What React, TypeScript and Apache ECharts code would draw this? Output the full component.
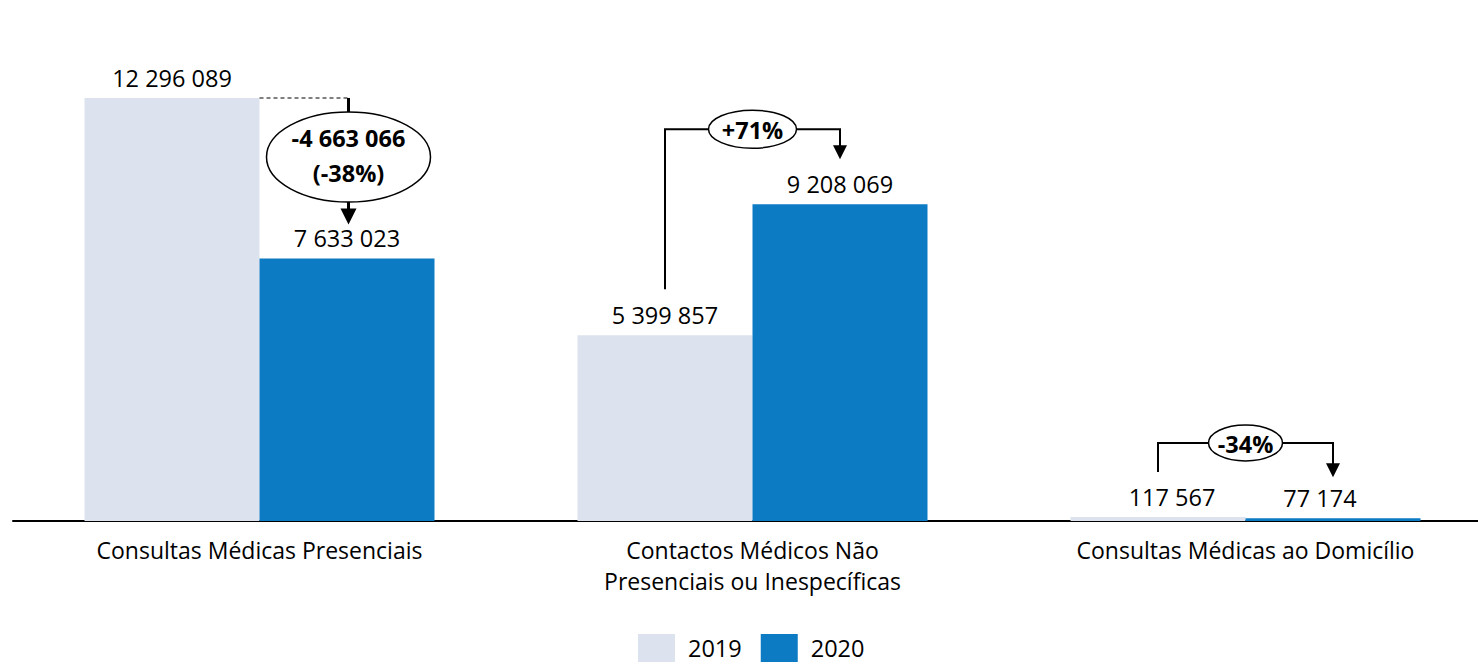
import React, { useEffect, useRef } from "react";
import * as echarts from "echarts";

const categories = [
  "Consultas Médicas Presenciais",
  "Contactos Médicos Não\nPresenciais ou Inespecíficas",
  "Consultas Médicas ao Domicílio",
];
const seriesNames = ["2019", "2020"];
const values2019 = [12296089, 5399857, 117567];
const values2020 = [7633023, 9208069, 77174];
const changeLabels = [["-4 663 066", "(-38%)"], ["+71%"], ["-34%"]];

const COLOR_2019 = "#dde3ee";
const COLOR_2020 = "#0c7bc4";
const FONT = "'Open Sans', 'Liberation Sans', sans-serif";
const BAR_W = 175;

const fmt = (v: number) => String(v).replace(/\B(?=(\d{3})+(?!\d))/g, " ");

export default function App() {
  const ref = useRef<HTMLDivElement>(null);
  useEffect(() => {
    if (!ref.current) return;
    const chart = echarts.init(ref.current, undefined, { renderer: "svg" });
    const labelOffsets2019 = [[0, 0], [0, 0], [14, 0]];
    const labelOffsets2020 = [[0, 0], [0, 0], [-13, 0]];
    const valueLabel = {
      show: true,
      position: "top",
      distance: 8,
      fontSize: 23.5,
      color: "#000",
      fontFamily: FONT,
      formatter: (p: any) => fmt(p.value),
    };
    const option: any = {
      animation: false,
      textStyle: { fontFamily: FONT },
      grid: { left: 13, width: 1479, top: 39.4, bottom: 145 },
      legend: {
        data: seriesNames,
        left: 638,
        top: 634,
        padding: 0,
        itemWidth: 37,
        itemHeight: 28,
        itemGap: 19,
        icon: "rect",
        textStyle: { fontSize: 23.5, color: "#000", fontFamily: FONT, padding: [0, 0, 0, 8] },
      },
      xAxis: {
        type: "category",
        data: categories,
        axisLine: { lineStyle: { color: "#000", width: 2 } },
        axisTick: { show: false },
        axisLabel: { fontSize: 23, color: "#000", lineHeight: 31, margin: 13, fontFamily: FONT },
      },
      yAxis: { type: "value", min: 0, max: 14000000, show: false, splitLine: { show: false } },
      series: [
        {
          name: seriesNames[0],
          type: "bar",
          barWidth: BAR_W,
          barGap: "0%",
          itemStyle: { color: COLOR_2019 },
          data: values2019.map((v, i) => ({ value: v, label: { offset: labelOffsets2019[i] } })),
          label: valueLabel,
        },
        {
          name: seriesNames[1],
          type: "bar",
          barWidth: BAR_W,
          barGap: "0%",
          itemStyle: { color: COLOR_2020 },
          data: values2020.map((v, i) => ({ value: v, label: { offset: labelOffsets2020[i] } })),
          label: valueLabel,
        },
      ],
    };
    chart.setOption(option);

    const px = (i: number, v: number) => chart.convertToPixel({ gridIndex: 0 }, [i, v]) as number[];
    const graphics: any[] = [];
    const arrowHead = (x: number, tipY: number, w: number, h: number) => ({
      type: "polygon",
      shape: { points: [[x - w / 2, tipY - h], [x + w / 2, tipY - h], [x, tipY]] },
      style: { fill: "#000" },
      z: 100,
    });
    const line = (pts: number[][], width: number, dash?: number[]) => ({
      type: "polyline",
      shape: { points: pts },
      style: { stroke: "#000", lineWidth: width, fill: null, lineDash: dash },
      z: 99,
    });
    const ellipse = (cx: number, cy: number, rx: number, ry: number) => ({
      type: "ellipse",
      shape: { cx, cy, rx, ry },
      style: { fill: "#fff", stroke: "#000", lineWidth: 1.5 },
      z: 101,
    });
    const txt = (x: number, y: number, t: string, lh: number) => ({
      type: "text",
      x,
      y,
      style: { text: t, fill: "#000", font: `bold 23.5px ${FONT}`, align: "center", verticalAlign: "middle", lineHeight: lh },
      z: 102,
    });

    // Category 1: difference arrow with ellipse
    {
      const c = px(0, values2019[0]);
      const y1 = c[1];
      const y2 = px(0, values2020[0])[1];
      const ax = c[0] + 89;
      graphics.push(line([[c[0], y1], [ax, y1]], 1, [4, 3]));
      const tip = y2 - 34;
      graphics.push(line([[ax, y1], [ax, tip - 12]], 3));
      graphics.push(arrowHead(ax, tip, 16, 16));
      const ecy = y1 + 59;
      graphics.push(ellipse(ax, ecy, 82, 45));
      graphics.push(txt(ax, ecy - 2, changeLabels[0].join("\n"), 35));
    }
    // Category 2 and 3: brackets
    const brackets = [
      { i: 1, topOff: 75, startOff: 46, tipOff: 45, rx: 44, ry: 19 },
      { i: 2, topOff: 74, startOff: 45, tipOff: 41, rx: 37, ry: 18 },
    ];
    brackets.forEach((b) => {
      const p1 = px(b.i, values2019[b.i]);
      const p2 = px(b.i, values2020[b.i]);
      const x1 = p1[0] - BAR_W / 2;
      const x2 = p1[0] + BAR_W / 2;
      const topY = b.i === 1 ? p2[1] - b.topOff : p1[1] - b.topOff;
      const startY = p1[1] - b.startOff;
      const tipY = p2[1] - b.tipOff;
      graphics.push(line([[x1, startY], [x1, topY], [x2, topY], [x2, tipY - 10]], 2));
      graphics.push(arrowHead(x2, tipY, 14, 14));
      graphics.push(ellipse(p1[0], topY, b.rx, b.ry));
      graphics.push(txt(p1[0], topY + 1, changeLabels[b.i][0], 26));
    });
    chart.setOption({ graphic: graphics });

    return () => chart.dispose();
  }, []);
  return (
    <div style={{ position: "absolute", left: 0, top: 0, width: 1478, height: 666, overflow: "hidden" }}>
      <div ref={ref} style={{ width: 1500, height: 666 }} />
    </div>
  );
}
